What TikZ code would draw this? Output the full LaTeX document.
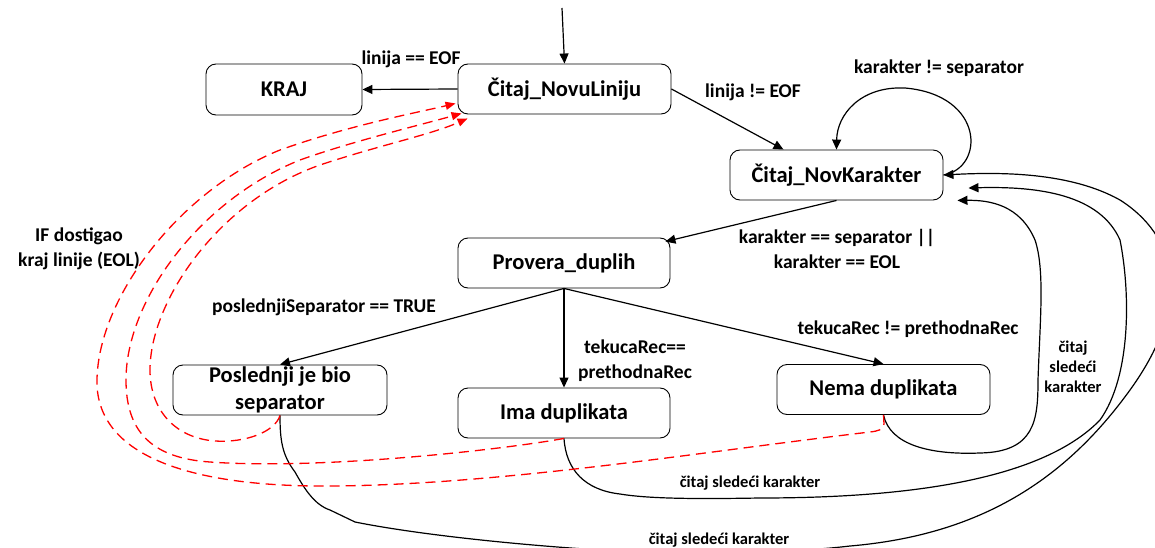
\documentclass[tikz,border=0pt]{standalone}
\usepackage{fontspec}
\setmainfont{Carlito}
\usetikzlibrary{arrows.meta,calc}
\begin{document}
\begin{tikzpicture}[x=1pt,y=-1pt,
  state/.style={draw=black, line width=0.9pt, rounded corners=10pt, fill=white,
    minimum width=213pt, minimum height=50pt, inner sep=0pt, align=center,
    font=\fontsize{22.5}{27}\selectfont\bfseries},
  lab/.style={font=\fontsize{19.5}{25}\selectfont\bfseries, align=center, inner sep=0pt},
  smalllab/.style={font=\fontsize{16.5}{20}\selectfont\bfseries, align=center, inner sep=0pt},
  conn/.style={line width=1.2pt, -{Triangle[length=10pt,width=9pt]}},
  back/.style={draw=red, line width=1.3pt, dash pattern=on 10pt off 6pt,
    -{Triangle[length=10pt,width=8pt]}}]
\fill[white] (0,0) rectangle (1155,548);
\clip (0,0) rectangle (1155,548);

% states
\node[state, minimum width=156pt, minimum height=51pt] (kraj) at (284,89.5) {KRAJ};
\node[state] (novuL) at (564.5,89) {Čitaj\_NovuLiniju};
\node[state] (novK) at (836.5,175) {Čitaj\_NovKarakter};
\node[state, minimum width=212pt] (prov) at (564,263) {Provera\_duplih};
\node[state, minimum width=214pt] (posl) at (280,390) {Poslednji je bio\\separator};
\node[state, minimum width=212pt] (ima) at (564,413) {Ima duplikata};
\node[state] (nema) at (883.5,389.5) {Nema duplikata};

% straight transitions
\coordinate (st) at (562,8);
\draw[conn] (st) -- (novuL.north);
\draw[conn] (novuL.west) -- (kraj.east);
\draw[conn] (novuL.east) -- ($(novK.north)+(-53,0)$);
\draw[conn] (novK.east) .. controls (985,168) and (985,95) .. (905,88)
   .. controls (860,86) and (837,115) .. (novK.north);
\draw[conn] (novK.south) -- ($(prov.north east)+(-5,4)$);
\draw[conn] (prov.south) -- (posl.north);
\draw[conn] (prov.south) -- (ima.north);
\draw[conn] (prov.south) -- (nema.north);

% return curves (black)
\draw[conn] (nema.south) .. controls (890,445) and (930,455) .. (980,453)
   .. controls (1035,452) and (1038,420) .. (1038,380)
   .. controls (1040,320) and (1045,270) .. (1035,240)
   .. controls (1020,205) and (990,200) .. ($(novK.south east)+(14,0)$);
\draw[conn] (ima.south) .. controls (566,470) and (585,490) .. (620,494)
   .. controls (650,499) and (700,499) .. (760,498)
   .. controls (900,498) and (1040,482) .. (1100,420)
   .. controls (1132,375) and (1130,290) .. (1120,240)
   .. controls (1100,195) and (1040,186) .. ($(novK.east)+(25,13)$);
\draw[conn] (posl.south) .. controls (280,440) and (282,455) .. (295,472)
   .. controls (305,490) and (315,505) .. (330,510) -- (355,522)
   .. controls (420,535) and (520,545) .. (600,550)
   .. controls (700,556) and (800,552) .. (850,546)
   .. controls (980,535) and (1065,480) .. (1130,390)
   .. controls (1195,300) and (1175,235) .. (1120,200)
   .. controls (1070,172) and (1000,172) .. (novK.east);

% EOL curves (red dashed)
\draw[back] (nema.south) -- (884,424) .. controls (883,430) and (878,431) .. (870,432)
   .. controls (700,452) and (500,485) .. (330,486)
   .. controls (200,487) and (100,460) .. (97,385)
   .. controls (95,300) and (180,190) .. (280,150)
   .. controls (350,125) and (420,112) .. ($(novuL.south west)+(-2,-11)$);
\draw[back] (ima.south) .. controls (500,450) and (320,470) .. (210,462)
   .. controls (150,458) and (126,430) .. (126,380)
   .. controls (126,300) and (200,200) .. (300,160)
   .. controls (350,142) and (420,125) .. ($(novuL.south west)+(4,-1)$);
\draw[back] (posl.south) .. controls (275,432) and (245,443) .. (215,441)
   .. controls (175,438) and (150,410) .. (150,370)
   .. controls (150,300) and (220,200) .. (320,165)
   .. controls (380,145) and (430,135) .. ($(novuL.south west)+(10,4)$);

% labels
\node[lab] (l1) at (411,59) {linija == EOF};
\node[lab] (l2) at (753,92) {linija != EOF};
\node[lab] (l3) at (939,68) {karakter != separator};
\node[lab] (l4) at (837,249) {karakter == separator ||\\karakter == EOL};
\node[lab] (l5) at (324,307) {poslednjiSeparator == TRUE};
\node[lab] (l6) at (635,361) {tekucaRec==\\prethodnaRec};
\node[lab] (l7) at (908,329) {tekucaRec != prethodnaRec};
\node[lab] (l8) at (79,249) {IF dostigao\\kraj linije (EOL)};
\node[smalllab] (l9) at (1073,367) {čitaj\\sledeći\\karakter};
\node[smalllab] (l10) at (750,483) {čitaj sledeći karakter};
\node[smalllab] (l11) at (719,540) {čitaj sledeći karakter};
\end{tikzpicture}
\end{document}
